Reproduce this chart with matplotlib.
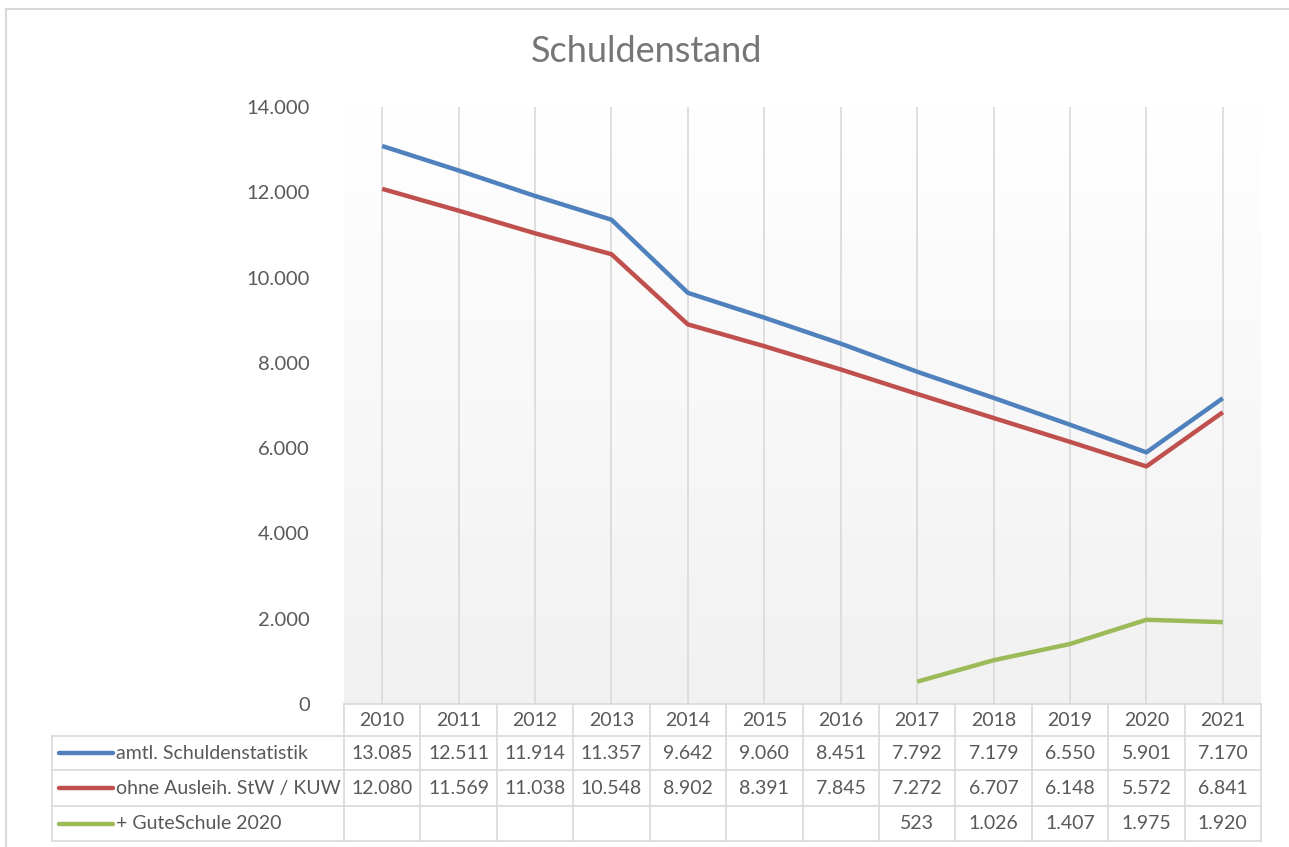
import numpy as np
import matplotlib.pyplot as plt
from matplotlib.colors import LinearSegmentedColormap

plt.rcParams['font.family'] = ['Lato', 'DejaVu Sans']

years = ['2010', '2011', '2012', '2013', '2014', '2015', '2016',
         '2017', '2018', '2019', '2020', '2021']
amtl = [13085, 12511, 11914, 11357, 9642, 9060, 8451, 7792, 7179, 6550, 5901, 7170]
ohne = [12080, 11569, 11038, 10548, 8902, 8391, 7845, 7272, 6707, 6148, 5572, 6841]
gute = [None, None, None, None, None, None, None, 523, 1026, 1407, 1975, 1920]

series_names = ['amtl. Schuldenstatistik', 'ohne Ausleih. StW / KUW', '+ GuteSchule 2020']
series_vals = [amtl, ohne, gute]
colors = ['#4F81BD', '#C0504D', '#9BBB59']

W, H = 1289, 847
fig = plt.figure(figsize=(W / 100, H / 100), dpi=100)

# plot area in pixel coords
px_l, px_r, px_t, px_b = 344, 1261, 107, 704
ax = fig.add_axes([px_l / W, 1 - px_b / H, (px_r - px_l) / W, (px_b - px_t) / H])

n = len(years)
x = np.arange(n)
ax.set_xlim(-0.5, n - 0.5)

# gradient background (white top -> light grey bottom)
grad = np.linspace(0, 1, 256).reshape(-1, 1)
cmap = LinearSegmentedColormap.from_list('bg', ['#ffffff', '#f1f1f1'])
ax.imshow(grad, aspect='auto', cmap=cmap, extent=[-0.5, n - 0.5, 0, 14000],
          origin='upper', zorder=0)
ax.set_ylim(0, 14000)

for xi in x:
    ax.axvline(xi, color='#d9d9d9', lw=1.2, zorder=1)

def fmt(v):
    return f'{v:,}'.replace(',', '.')

for vals, c in zip(series_vals, colors):
    xs = [xi for xi, v in zip(x, vals) if v is not None]
    ys = [v for v in vals if v is not None]
    ax.plot(xs, ys, color=c, lw=3.2, solid_capstyle='butt', solid_joinstyle='round', zorder=3)

for s in ax.spines.values():
    s.set_visible(False)
ax.set_xticks([])
yt = np.arange(0, 14001, 2000)
ax.set_yticks(yt)
ax.set_yticklabels([fmt(v) for v in yt], fontsize=14.5, color='#595959')
ax.tick_params(axis='y', length=0, pad=24.5)

# data table
trans = ax.get_xaxis_transform()
def ya(py):
    return (px_b - py) / (px_b - px_t)

row_lines = [704, 736, 770, 806, 841]
colw = (px_r - px_l) / n
tbl_left_x = -0.5 - (px_l - 52) / colw
line_kw = dict(color='#d9d9d9', lw=1.2, clip_on=False, zorder=2)

# horizontal lines
ax.plot([-0.5, n - 0.5], [ya(row_lines[0])] * 2, transform=trans, **line_kw)
for py in row_lines[1:]:
    ax.plot([tbl_left_x, n - 0.5], [ya(py)] * 2, transform=trans, **line_kw)
# vertical lines
for i in range(n + 1):
    ax.plot([i - 0.5] * 2, [ya(row_lines[0]), ya(row_lines[-1])], transform=trans, **line_kw)
ax.plot([tbl_left_x] * 2, [ya(row_lines[1]), ya(row_lines[-1])], transform=trans, **line_kw)

txt_kw = dict(transform=trans, fontsize=14, color='#595959', ha='center', va='center', clip_on=False)
ymid = [(row_lines[k] + row_lines[k + 1]) / 2 for k in range(4)]
for i, yr in enumerate(years):
    ax.text(i, ya(ymid[0]), yr, **txt_kw)
for r, (name, vals, c) in enumerate(zip(series_names, series_vals, colors)):
    yr_ = ya(ymid[r + 1])
    for i, v in enumerate(vals):
        if v is not None:
            ax.text(i, yr_, fmt(v), **txt_kw)
    key_x0 = tbl_left_x + (59 - 52) / colw
    key_x1 = tbl_left_x + (113 - 52) / colw
    ax.plot([key_x0, key_x1], [yr_, yr_], transform=trans, color=c, lw=3.2,
            solid_capstyle='round', clip_on=False, zorder=3)
    ax.text(tbl_left_x + (116 - 52) / colw, yr_, name, transform=trans, fontsize=14,
            color='#595959', ha='left', va='center', clip_on=False)

fig.text(647 / W, 1 - 51 / H, 'Schuldenstand', ha='center', va='center',
         fontsize=26, color='#767676')

# chart border
fig.add_artist(plt.Line2D([6 / W, 6 / W], [0, 1 - 9 / H], color='#d9d9d9', lw=1.5))
fig.add_artist(plt.Line2D([6 / W, 1], [1 - 9 / H, 1 - 9 / H], color='#d9d9d9', lw=1.5))

fig.savefig('out.png', dpi=100)
